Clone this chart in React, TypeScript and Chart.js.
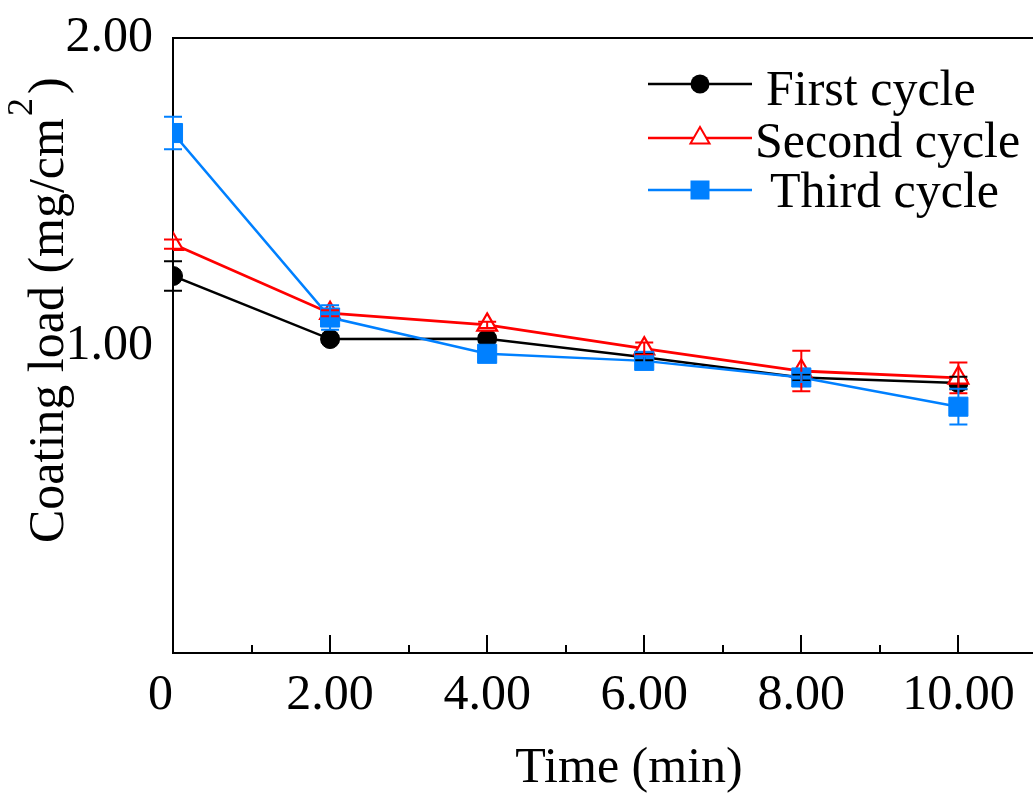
import React, { useEffect, useRef } from 'react';
import { Chart, registerables } from 'chart.js';

Chart.register(...registerables);

// ---- data ----
const timeMin = [0, 2, 4, 6, 8, 10];
const firstCycle = [1.226, 1.021, 1.022, 0.962, 0.896, 0.878];
const firstErr = [0.048, 0.01, 0.01, 0.01, 0.01, 0.02];
const secondCycle = [1.33, 1.105, 1.067, 0.99, 0.917, 0.895];
const secondErr = [0.015, 0.01, 0.01, 0.02, 0.066, 0.05];
const thirdCycle = [1.691, 1.091, 0.973, 0.95, 0.896, 0.801];
const thirdErr = [0.053, 0.04, 0.015, 0.015, 0.015, 0.058];
const seriesNames = ['First cycle', 'Second cycle', 'Third cycle'];
const xTickValues = [0, 1, 2, 3, 4, 5, 6, 7, 8, 9, 10];
const yTickValues = [0, 1, 2];

const FONT = "'Liberation Serif', 'Times New Roman', serif";
const COLORS = ['#000000', '#ff0000', '#0080ff'];
const ERRS = [firstErr, secondErr, thirdErr];
const VALUES = [firstCycle, secondCycle, thirdCycle];

// legend layout (styling only)
const legendRows = [
  { lineY: 84, textX: 766, baseY: 105 },
  { lineY: 138, textX: 755, baseY: 157 },
  { lineY: 190, textX: 770, baseY: 207 },
];

function drawMarker(ctx: CanvasRenderingContext2D, i: number, x: number, y: number) {
  ctx.save();
  ctx.strokeStyle = COLORS[i];
  if (i === 0) {
    ctx.fillStyle = COLORS[0];
    ctx.beginPath();
    ctx.arc(x, y, 9.5, 0, Math.PI * 2);
    ctx.fill();
  } else if (i === 1) {
    const r = 11;
    ctx.fillStyle = '#ffffff';
    ctx.lineWidth = 2;
    ctx.beginPath();
    ctx.moveTo(x, y - r);
    ctx.lineTo(x + r * 0.866, y + r * 0.5);
    ctx.lineTo(x - r * 0.866, y + r * 0.5);
    ctx.closePath();
    ctx.fill();
    ctx.stroke();
  } else {
    const s = 9.5;
    ctx.fillStyle = COLORS[2];
    ctx.fillRect(x - s, y - s, 2 * s, 2 * s);
  }
  ctx.restore();
}

const noPad = (scale: any) => {
  scale.paddingTop = 0;
  scale.paddingBottom = 0;
  scale.paddingLeft = 0;
  scale.paddingRight = 0;
};

const decorPlugin = {
  id: 'decor',
  afterDatasetsDraw(chart: any) {
    const ctx = chart.ctx as CanvasRenderingContext2D;
    const xs = chart.scales.x;
    const ys = chart.scales.y;
    ctx.save();
    ctx.lineWidth = 2;
    for (let i = 0; i < 3; i++) {
      ctx.strokeStyle = COLORS[i];
      for (let j = 0; j < timeMin.length; j++) {
        const px = xs.getPixelForValue(timeMin[j]);
        const top = ys.getPixelForValue(VALUES[i][j] + ERRS[i][j]);
        const bot = ys.getPixelForValue(VALUES[i][j] - ERRS[i][j]);
        ctx.beginPath();
        ctx.moveTo(px, top);
        ctx.lineTo(px, bot);
        ctx.moveTo(px - 9, top);
        ctx.lineTo(px + 9, top);
        ctx.moveTo(px - 9, bot);
        ctx.lineTo(px + 9, bot);
        ctx.stroke();
      }
    }
    ctx.restore();
  },
  afterDraw(chart: any) {
    const ctx = chart.ctx as CanvasRenderingContext2D;
    const xs = chart.scales.x;
    const area = chart.chartArea;
    ctx.save();
    ctx.strokeStyle = '#000';
    ctx.lineWidth = 2;
    ctx.beginPath();
    ctx.moveTo(area.left - 1, area.top);
    ctx.lineTo(area.right, area.top);
    ctx.stroke();
    for (const v of xTickValues) {
      if (v === 0) continue;
      const px = Math.round(xs.getPixelForValue(v));
      const len = v % 2 === 0 ? 18 : 8;
      ctx.beginPath();
      ctx.moveTo(px, area.bottom);
      ctx.lineTo(px, area.bottom - len);
      ctx.stroke();
    }
    ctx.fillStyle = '#000';
    ctx.font = `50px ${FONT}`;
    ctx.textAlign = 'center';
    ctx.textBaseline = 'alphabetic';
    ctx.fillText('Time (min)', 629, 782);

    ctx.save();
    ctx.translate(63, 543);
    ctx.rotate(-Math.PI / 2);
    ctx.textAlign = 'left';
    const main = 'Coating load (mg/cm';
    ctx.fillText(main, 0, 0);
    const w = ctx.measureText(main).width;
    ctx.font = `36px ${FONT}`;
    ctx.fillText('2', w + 2, -31);
    const w2 = ctx.measureText('2').width;
    ctx.font = `50px ${FONT}`;
    ctx.fillText(')', w + w2 + 6, 0);
    ctx.restore();

    for (let i = 0; i < 3; i++) {
      const row = legendRows[i];
      ctx.strokeStyle = COLORS[i];
      ctx.lineWidth = 2.5;
      ctx.beginPath();
      ctx.moveTo(648, row.lineY);
      ctx.lineTo(752, row.lineY);
      ctx.stroke();
      drawMarker(ctx, i, 700, row.lineY);
      ctx.fillStyle = '#000';
      ctx.font = `50px ${FONT}`;
      ctx.textAlign = 'left';
      ctx.fillText(seriesNames[i], row.textX, row.baseY);
    }
    ctx.restore();
  },
};

export default function App() {
  const canvasRef = useRef<HTMLCanvasElement | null>(null);

  useEffect(() => {
    if (!canvasRef.current) return;
    const mk = (vals: number[]) => timeMin.map((t, k) => ({ x: t, y: vals[k] }));
    const chart = new Chart(canvasRef.current, {
      type: 'line',
      data: {
        datasets: [
          {
            label: seriesNames[0],
            data: mk(firstCycle),
            borderColor: COLORS[0],
            backgroundColor: COLORS[0],
            pointBackgroundColor: COLORS[0],
            pointBorderColor: COLORS[0],
            pointStyle: 'circle',
            pointRadius: 9.5,
            pointBorderWidth: 1,
            borderWidth: 2.5,
            order: 3,
          },
          {
            label: seriesNames[1],
            data: mk(secondCycle),
            borderColor: COLORS[1],
            backgroundColor: '#ffffff',
            pointBackgroundColor: '#ffffff',
            pointBorderColor: COLORS[1],
            pointStyle: 'triangle',
            pointRadius: 11.5,
            pointBorderWidth: 2.2,
            borderWidth: 2.8,
            order: 2,
          },
          {
            label: seriesNames[2],
            data: mk(thirdCycle),
            borderColor: COLORS[2],
            backgroundColor: COLORS[2],
            pointBackgroundColor: COLORS[2],
            pointBorderColor: COLORS[2],
            pointStyle: 'rect',
            pointRadius: 13.5,
            pointBorderWidth: 1,
            borderWidth: 2.5,
            order: 1,
          },
        ],
      },
      options: {
        responsive: false,
        animation: false,
        layout: { autoPadding: false, padding: { top: 38, right: 0, left: 0, bottom: 0 } },
        plugins: {
          legend: { display: false },
          tooltip: { enabled: false },
        },
        scales: {
          x: {
            type: 'linear',
            min: 0,
            max: 10.95,
            afterBuildTicks: (scale: any) => {
              scale.ticks = xTickValues.map((v) => ({ value: v }));
            },
            afterFit: (scale: any) => {
              scale.height = 140;
              noPad(scale);
            },
            grid: { display: false, drawTicks: false },
            border: { display: true, color: '#000', width: 2 },
            ticks: {
              autoSkip: false,
              maxRotation: 0,
              minRotation: 0,
              padding: 13,
              color: '#000',
              font: { family: FONT, size: 50 },
              callback: (value: any) => {
                const v = Number(value);
                if (v === 0) return '0  ';
                return v % 2 === 0 ? v.toFixed(2) : '';
              },
            },
          },
          y: {
            type: 'linear',
            min: 0,
            max: 2,
            afterBuildTicks: (scale: any) => {
              scale.ticks = yTickValues.map((v) => ({ value: v }));
            },
            afterFit: (scale: any) => {
              scale.width = 173;
              noPad(scale);
            },
            grid: { display: false, drawTicks: false },
            border: { display: true, color: '#000', width: 2 },
            ticks: {
              padding: 20,
              color: '#000',
              font: { family: FONT, size: 50 },
              callback: (value: any) => {
                const v = Number(value);
                return v === 0 ? '' : v.toFixed(2);
              },
            },
          },
        },
      },
      plugins: [decorPlugin],
    } as any);
    return () => chart.destroy();
  }, []);

  return (
    <div style={{ position: 'fixed', left: 0, top: 0, width: 1033, height: 793, background: '#fff' }}>
      <canvas ref={canvasRef} width={1033} height={793} style={{ display: 'block' }} />
    </div>
  );
}
